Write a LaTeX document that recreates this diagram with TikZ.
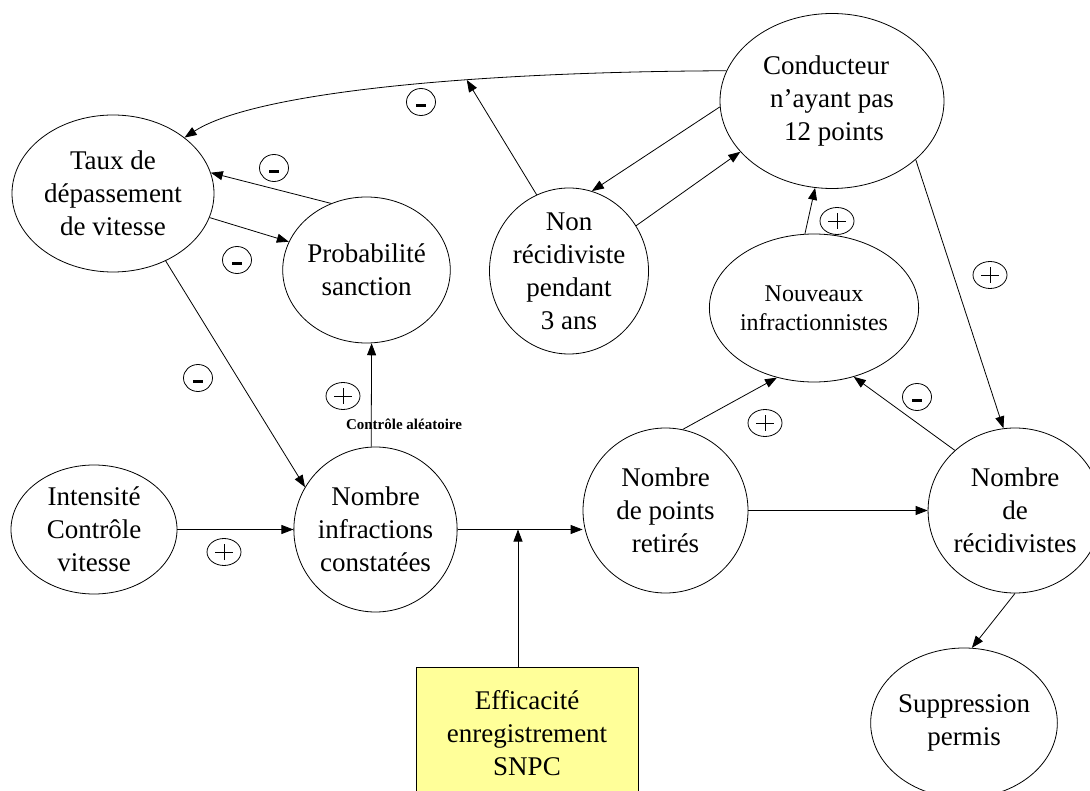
\documentclass[tikz,border=0pt]{standalone}
\usepackage{fontspec}
\setmainfont{Liberation Serif}
\usetikzlibrary{shapes.geometric,arrows.meta}
\definecolor{boxy}{HTML}{FFFF99}
\begin{document}
\begin{tikzpicture}[x=1pt,y=-1pt,
  ell/.style={draw,ellipse,inner sep=0pt,align=center,font=\fontsize{27}{33}\selectfont,line width=0.8pt},
  arr/.style={-{Triangle[length=12pt,width=9pt]},line width=0.8pt},
  minus/.style={draw,ellipse,minimum width=29pt,minimum height=27pt,inner sep=0pt,line width=0.8pt,
    path picture={\draw[line width=3pt] ([xshift=-5pt,yshift=-4pt]path picture bounding box.center) -- ([xshift=5pt,yshift=-4pt]path picture bounding box.center);}},
  plus/.style={draw,ellipse,minimum width=34pt,minimum height=27pt,inner sep=0pt,line width=0.8pt,
    path picture={\draw[line width=0.9pt] ([xshift=-9pt]path picture bounding box.center) -- ([xshift=9pt]path picture bounding box.center)
      ([yshift=-8pt]path picture bounding box.center) -- ([yshift=8pt]path picture bounding box.center);}}]
\useasboundingbox (0,0) rectangle (1090,791);
% nodes
\node[ell,minimum width=202pt,minimum height=157pt] (taux) at (113,193.5) {Taux de\\dépassement\\de vitesse};
\node[ell,minimum width=141pt,minimum height=146pt] (prob) at (366.5,270) {Probabilité\\sanction};
\node[ell,minimum width=158pt,minimum height=166pt] (non) at (569,271) {Non\\récidiviste\\pendant\\3 ans};
\node[ell,minimum width=224pt,minimum height=175pt] (cond) at (832,101) {\hspace*{-12pt}Conducteur\\n’ayant pas\\\hspace*{4pt}12 points};
\node[ell,font=\fontsize{24}{29}\selectfont,minimum width=168pt,minimum height=148pt] (nouv) at (814,308) {Nouveaux\\infractionnistes};
\node[ell,minimum width=166pt,minimum height=129pt] (inten) at (94,529.5) {Intensité\\Contrôle\\vitesse};
\node[ell,minimum width=157pt,minimum height=165pt] (ninf) at (375.5,529.5) {Nombre\\infractions\\constatées};
\node[ell,minimum width=165pt,minimum height=165pt] (pts) at (665.5,510.5) {Nombre\\de points\\retirés};
\node[ell,minimum width=150pt,minimum height=165pt] (rec) at (1015,510.5) {Nombre\\de\\récidivistes};
\node[ell,minimum width=174pt,minimum height=150pt] (supp) at (964,723) {Suppression\\permis};
\node[draw,fill=boxy,line width=0.8pt,minimum width=222pt,minimum height=132pt,inner sep=0pt,align=center,font=\fontsize{27}{33}\selectfont] (box) at (527,733) {Efficacité\\enregistrement\\SNPC};
\node[font=\bfseries\fontsize{15}{15}\selectfont] (lab) at (404,424) {Contrôle aléatoire};
% connectors
\draw[arr] (cond.164) .. controls (450,72) and (250,95) .. (taux.38) coordinate[pos=0.35] (oncurve);
\draw[arr] (non.113) -- (oncurve);
\draw[arr] (prob.118) -- (taux.12);
\draw[arr] (taux.346) -- (prob.160);
\draw[arr] (taux.-52) -- (ninf.149);
\draw[arr] (inten) -- (ninf);
\draw[arr] (ninf.93) -- (prob.274);
\coordinate (j) at (518,529.5);
\draw[arr] (ninf.east) -- (ninf.east -| pts.west);
\draw[arr] (box.north -| j) -- (j);
\draw[arr] (pts) -- (rec);
\draw[arr] (pts.78) -- (nouv.242);
\draw[arr] (rec.135) -- (nouv.300);
\draw[arr] (nouv.97) -- (cond.259);
\draw[arr] (cond.183) -- (non.74);
\draw[arr] (non.34) -- (cond.209);
\draw[arr] (cond.-35) -- (rec.98);
\draw[arr] (rec.-90) -- (supp.84);
% signs
\node[minus] (m1) at (421,102) {};
\node[minus] (m2) at (274,168) {};
\node[minus] (m3) at (237,260) {};
\node[minus] (m4) at (198,378) {};
\node[minus] (m5) at (917,397) {};
\node[plus] (p1) at (343,396) {};
\node[plus] (p2) at (224,552) {};
\node[plus] (p3) at (765,423) {};
\node[plus] (p4) at (837,221) {};
\node[plus] (p5) at (990,275) {};
\end{tikzpicture}
\end{document}
